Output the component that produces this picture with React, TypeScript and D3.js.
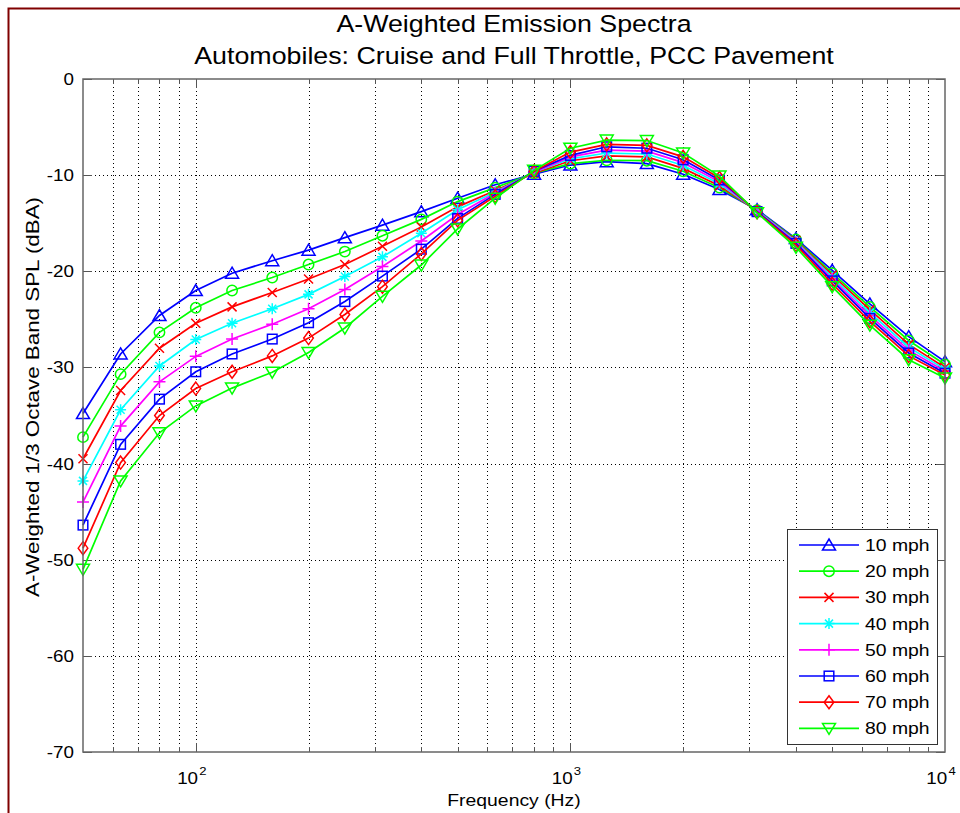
import React from "react";
import * as d3 from "d3";

const freqs = [50, 63, 80, 100, 125, 160, 200, 250, 315, 400, 500, 630, 800, 1000, 1250, 1600, 2000, 2500, 3150, 4000, 5000, 6300, 8000, 10000];

const mph10 = [-34.8, -28.6, -24.6, -22.0, -20.2, -18.9, -17.8, -16.5, -15.2, -13.8, -12.4, -11.0, -9.9, -8.95, -8.6, -8.8, -9.9, -11.5, -13.6, -16.6, -19.9, -23.4, -26.8, -29.4];
const mph20 = [-37.25, -30.7, -26.35, -23.8, -22.0, -20.65, -19.3, -17.95, -16.3, -14.6, -12.75, -11.3, -9.8, -8.8, -8.45, -8.5, -9.6, -11.3, -13.65, -16.7, -20.2, -23.7, -27.2, -29.7];
const mph30 = [-39.5, -32.4, -28.0, -25.4, -23.7, -22.2, -20.8, -19.3, -17.4, -15.4, -13.3, -11.6, -9.8, -8.5, -8.0, -8.1, -9.3, -11.1, -13.7, -16.8, -20.4, -24.0, -27.6, -30.0];
const mph40 = [-41.8, -34.4, -29.85, -27.1, -25.4, -23.9, -22.4, -20.55, -18.5, -16.05, -13.6, -11.75, -9.7, -8.3, -7.7, -7.8, -9.0, -10.9, -13.7, -16.9, -20.6, -24.3, -27.9, -30.2];
const mph50 = [-44.0, -36.1, -31.5, -28.85, -27.05, -25.5, -23.9, -21.9, -19.5, -16.85, -14.1, -11.85, -9.7, -8.1, -7.4, -7.5, -8.7, -10.7, -13.75, -17.0, -20.8, -24.6, -28.2, -30.4];
const mph60 = [-46.4, -38.0, -33.3, -30.45, -28.6, -27.05, -25.35, -23.15, -20.5, -17.7, -14.5, -12.0, -9.6, -7.95, -7.05, -7.2, -8.4, -10.5, -13.8, -17.1, -21.0, -24.9, -28.5, -30.6];
const mph70 = [-48.8, -39.9, -35.0, -32.2, -30.45, -28.8, -26.95, -24.5, -21.6, -18.2, -14.7, -12.2, -9.6, -7.6, -6.8, -6.9, -8.1, -10.3, -13.85, -17.25, -21.3, -25.2, -28.8, -30.8];
const mph80 = [-51.0, -41.8, -36.8, -34.0, -32.15, -30.5, -28.45, -25.9, -22.6, -19.35, -15.6, -12.4, -9.5, -7.2, -6.35, -6.4, -7.7, -10.1, -13.9, -17.5, -21.6, -25.6, -29.2, -31.1];

const seriesNames = ["10 mph", "20 mph", "30 mph", "40 mph", "50 mph", "60 mph", "70 mph", "80 mph"];
const seriesValues = [mph10, mph20, mph30, mph40, mph50, mph60, mph70, mph80];
const seriesColors = ["#0000ff", "#00ff00", "#ff0000", "#00ffff", "#ff00ff", "#0000ff", "#ff0000", "#00ff00"];
const seriesMarkers = ["triUp", "circle", "x", "star", "plus", "square", "diamond", "triDown"];

const yTicks = [0, -10, -20, -30, -40, -50, -60, -70];
const xMajor = [100, 1000, 10000];
const xMajorExp = ["2", "3", "4"];

const titleLines = ["A-Weighted Emission Spectra", "Automobiles: Cruise and Full Throttle, PCC Pavement"];
const xLabel = "Frequency (Hz)";
const yLabel = "A-Weighted 1/3 Octave Band SPL (dBA)";

const FONT = "'Liberation Sans', Arial, Helvetica, sans-serif";
const SX = 1.14;

function Marker({ type, cx, cy, color }: { type: string; cx: number; cy: number; color: string }) {
  const sw = 1.5;
  const common = { fill: "none", stroke: color, strokeWidth: sw };
  switch (type) {
    case "triUp":
      return <path d={`M${cx},${cy - 6}L${cx + 6.5},${cy + 5}L${cx - 6.5},${cy + 5}Z`} {...common} />;
    case "triDown":
      return <path d={`M${cx},${cy + 6}L${cx + 6.5},${cy - 5}L${cx - 6.5},${cy - 5}Z`} {...common} />;
    case "circle":
      return <circle cx={cx} cy={cy} r={5.2} {...common} />;
    case "x":
      return <path d={`M${cx - 4.5},${cy - 4.5}L${cx + 4.5},${cy + 4.5}M${cx - 4.5},${cy + 4.5}L${cx + 4.5},${cy - 4.5}`} {...common} />;
    case "plus":
      return <path d={`M${cx - 6},${cy}L${cx + 6},${cy}M${cx},${cy - 6}L${cx},${cy + 6}`} {...common} />;
    case "star":
      return (
        <path
          d={`M${cx - 5.5},${cy}L${cx + 5.5},${cy}M${cx},${cy - 5.5}L${cx},${cy + 5.5}M${cx - 4},${cy - 4}L${cx + 4},${cy + 4}M${cx - 4},${cy + 4}L${cx + 4},${cy - 4}`}
          {...common}
        />
      );
    case "square":
      return <rect x={cx - 4.8} y={cy - 4.8} width={9.6} height={9.6} {...common} />;
    case "diamond":
      return <path d={`M${cx},${cy - 6.5}L${cx + 4.8},${cy}L${cx},${cy + 6.5}L${cx - 4.8},${cy}Z`} {...common} />;
    default:
      return null;
  }
}

export default function App() {
  const left = 83, right = 945, top = 79, bottom = 752;
  const x = d3.scaleLog().domain([50, 10000]).range([left, right]);
  const y = d3.scaleLinear().domain([-70, 0]).range([bottom, top]);
  const allX = x.ticks().filter((t) => t > 50 && t < 10000);
  const line = d3
    .line<number>()
    .x((_, i) => x(freqs[i]))
    .y((v) => y(v));

  const legX = 787, legY = 529, legW = 150, legH = 215;
  const legRow0 = 545, legStep = 26.2;

  return (
    <svg width={960} height={813} style={{ position: "fixed", left: 0, top: 0, background: "#fff" }}>
      <rect x={0} y={0} width={960} height={813} fill="#fff" />
      {/* figure border */}
      <path d="M8.5,813L8.5,8.5L960,8.5" fill="none" stroke="#800000" strokeWidth={2} />

      {/* title */}
      {titleLines.map((t, i) => (
        <text
          key={i}
          transform={`translate(${(left + right) / 2},${31.5 + i * 32}) scale(${SX},1)`}
          textAnchor="middle"
          fontFamily={FONT}
          fontSize={23.5}
          fill="#000"
        >
          {t}
        </text>
      ))}

      {/* grid */}
      <g stroke="#000" strokeWidth={1} strokeDasharray="1,3">
        {allX.map((t) => (
          <line key={"gx" + t} x1={Math.round(x(t)) + 0.5} x2={Math.round(x(t)) + 0.5} y1={top} y2={bottom} />
        ))}
        {yTicks
          .filter((t) => t !== 0 && t !== -70)
          .map((t) => (
            <line key={"gy" + t} x1={left} x2={right} y1={Math.round(y(t)) + 0.5} y2={Math.round(y(t)) + 0.5} />
          ))}
      </g>

      {/* ticks */}
      <g stroke="#555" strokeWidth={1}>
        {allX.map((t) => {
          const major = xMajor.includes(t);
          const len = major ? 9 : 5;
          const xx = Math.round(x(t)) + 0.5;
          return (
            <g key={"tx" + t}>
              <line x1={xx} x2={xx} y1={bottom} y2={bottom - len} />
              <line x1={xx} x2={xx} y1={top} y2={top + len} />
            </g>
          );
        })}
        {yTicks.map((t) => {
          const yy = Math.round(y(t)) + 0.5;
          return (
            <g key={"ty" + t}>
              <line x1={left} x2={left + 9} y1={yy} y2={yy} />
              <line x1={right} x2={right - 9} y1={yy} y2={yy} />
            </g>
          );
        })}
      </g>

      {/* series */}
      {seriesValues.map((vals, si) => (
        <g key={"s" + si}>
          <path d={line(vals) || ""} fill="none" stroke={seriesColors[si]} strokeWidth={1.7} />
          {vals.map((v, i) => (
            <Marker key={i} type={seriesMarkers[si]} cx={x(freqs[i])} cy={y(v)} color={seriesColors[si]} />
          ))}
        </g>
      ))}

      {/* axes box */}
      <rect x={left} y={top} width={right - left} height={bottom - top} fill="none" stroke="#666" strokeWidth={1.5} />

      {/* y tick labels */}
      {yTicks.map((t) => (
        <text
          key={"yl" + t}
          transform={`translate(74,${y(t) + 6}) scale(${SX},1)`}
          textAnchor="end"
          fontFamily={FONT}
          fontSize={16.5}
          fill="#000"
        >
          {String(t)}
        </text>
      ))}

      {/* x tick labels */}
      {xMajor.map((t, i) => (
        <g key={"xl" + t} transform={`translate(${x(t)},784) scale(${SX},1)`}>
          <text textAnchor="end" x={2} fontFamily={FONT} fontSize={16.5} fill="#000">
            10
          </text>
          <text x={3} y={-9} fontFamily={FONT} fontSize={11.5} fill="#000">
            {xMajorExp[i]}
          </text>
        </g>
      ))}

      {/* axis labels */}
      <text
        transform={`translate(${(left + right) / 2},806) scale(${SX},1)`}
        textAnchor="middle"
        fontFamily={FONT}
        fontSize={17}
        fill="#000"
      >
        {xLabel}
      </text>
      <text
        transform={`translate(39,397) rotate(-90)`}
        textAnchor="middle"
        fontFamily={FONT}
        fontSize={17.5}
        textLength={400}
        lengthAdjust="spacingAndGlyphs"
        fill="#000"
      >
        {yLabel}
      </text>

      {/* legend */}
      <rect x={legX + 0.5} y={legY + 0.5} width={legW} height={legH} fill="#fff" stroke="#333" strokeWidth={1} />
      {seriesNames.map((n, i) => {
        const yy = legRow0 + i * legStep;
        return (
          <g key={"lg" + i}>
            <line x1={799} x2={859} y1={yy} y2={yy} stroke={seriesColors[i]} strokeWidth={1.7} />
            <Marker type={seriesMarkers[i]} cx={829} cy={yy} color={seriesColors[i]} />
            <text transform={`translate(865,${yy + 6}) scale(${SX},1)`} fontFamily={FONT} fontSize={17} fill="#000">
              {n}
            </text>
          </g>
        );
      })}
    </svg>
  );
}
